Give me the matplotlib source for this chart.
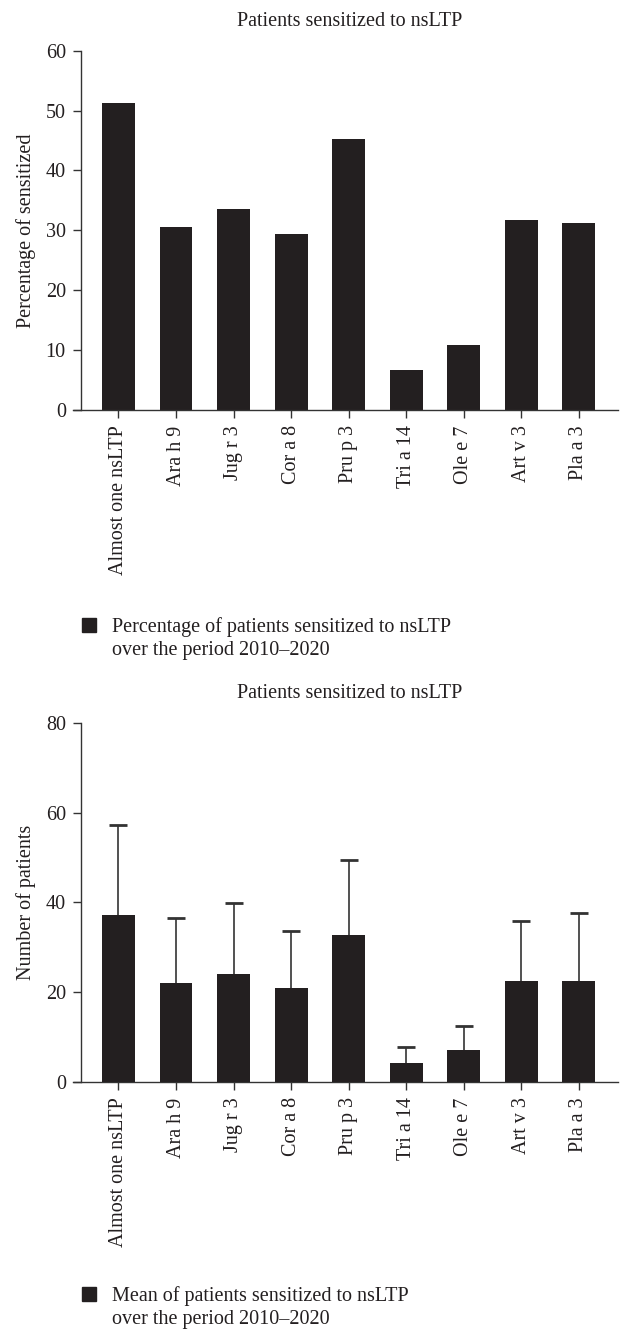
import matplotlib
matplotlib.use('Agg')
import matplotlib.pyplot as plt
from matplotlib.patches import Patch

plt.rcParams['font.family'] = ['Liberation Serif', 'DejaVu Serif']

allergens = ['Almost one nsLTP', 'Ara h 9', 'Jug r 3', 'Cor a 8', 'Pru p 3',
             'Tri a 14', 'Ole e 7', 'Art v 3', 'Pla a 3']
pct_sensitized = [51.3, 30.6, 33.6, 29.4, 45.3, 6.7, 10.9, 31.7, 31.2]
mean_patients = [37.1, 22.0, 24.1, 21.0, 32.7, 4.2, 7.1, 22.5, 22.5]
sd_patients = [20.1, 14.5, 15.8, 12.6, 16.7, 3.7, 5.4, 13.4, 15.1]

ink = '#231f20'
fs = 14.5
W, H = 620, 1329
fig = plt.figure(figsize=(W / 100, H / 100), dpi=100)


def fx(px):
    return px / W


def fy(py):
    return 1 - py / H


def style(ax, ymax, step):
    ax.set_xlim(-0.79, 8.68)
    ax.set_ylim(0, ymax)
    ax.set_yticks(range(0, ymax + 1, step))
    ax.set_xticks(range(len(allergens)))
    ax.set_xticklabels(allergens, rotation=90, fontsize=fs, color=ink)
    for s in ['top', 'right']:
        ax.spines[s].set_visible(False)
    ax.spines['left'].set_position(('data', -0.65))
    for s in ['left', 'bottom']:
        ax.spines[s].set_linewidth(1.0)
        ax.spines[s].set_color('#333333')
    ax.tick_params(axis='both', length=6, width=1.0, color='#333333',
                   labelsize=fs, labelcolor=ink)
    ax.tick_params(axis='y', pad=5)
    ax.tick_params(axis='x', pad=5)


def legend(labels, top):
    fig.legend(handles=[Patch(color=ink), Patch(fill=False, edgecolor='none')],
               labels=labels, loc='upper left', bbox_to_anchor=(fx(72), fy(top)),
               frameon=False, fontsize=fs, labelcolor=ink, handlelength=0.7,
               handleheight=0.7, handletextpad=0.8, labelspacing=0.2, borderpad=0)


# top panel
ax1 = fig.add_axes([fx(73), fy(410), fx(618 - 73), (410 - 50.7) / H])
ax1.bar(range(len(allergens)), pct_sensitized, width=0.57, color=ink)
style(ax1, 60, 10)
ax1.set_ylabel('Percentage of sensitized', fontsize=fs, color=ink, labelpad=7)
fig.text(fx(350), fy(22), 'Patients sensitized to nsLTP', ha='center', va='center',
         fontsize=fs, color=ink)
legend(['Percentage of patients sensitized to nsLTP', 'over the period 2010\u20132020'], 607)

# bottom panel
ax2 = fig.add_axes([fx(73), fy(1082), fx(618 - 73), (1082 - 722.7) / H])
ax2.bar(range(len(allergens)), mean_patients, width=0.57, color=ink, zorder=3)
eb = ax2.errorbar(range(len(allergens)), mean_patients,
                  yerr=[[0] * len(allergens), sd_patients], fmt='none',
                  ecolor='#333333', elinewidth=1.2, capsize=6.5, capthick=2, zorder=2)
eb[1][0].set_visible(False)  # hide lower caps (only upper SD shown)
style(ax2, 80, 20)
ax2.set_ylabel('Number of patients', fontsize=fs, color=ink, labelpad=7)
fig.text(fx(350), fy(693), 'Patients sensitized to nsLTP', ha='center', va='center',
         fontsize=fs, color=ink)
legend(['Mean of patients sensitized to nsLTP', 'over the period 2010\u20132020'], 1276)

fig.savefig('out.png', dpi=100)
